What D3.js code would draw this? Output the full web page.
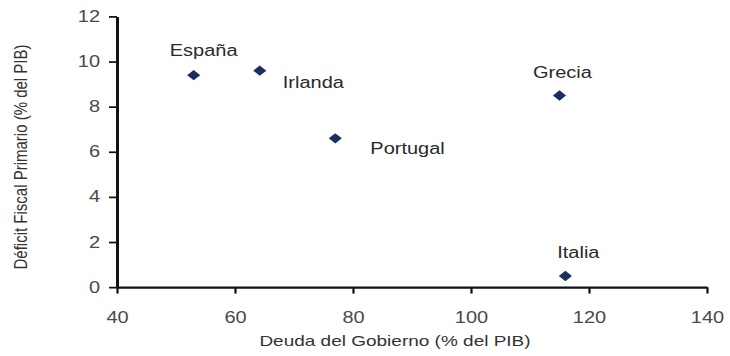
<!DOCTYPE html>
<html>
<head>
<meta charset="utf-8">
<script src="https://cdn.jsdelivr.net/npm/d3@7"></script>
<style>
  html, body { margin: 0; padding: 0; background: #fff; }
  svg { display: block; }
  text { font-family: "Liberation Sans", Arial, sans-serif; }
</style>
</head>
<body>
<svg id="chart" width="730" height="356"></svg>
<script>
// Government debt vs. primary fiscal deficit, selected euro-area countries
const countries = ["España", "Irlanda", "Portugal", "Grecia", "Italia"];
const debt      = [53, 64.2, 77, 115, 116];   // % del PIB
const deficit   = [9.4, 9.6, 6.6, 8.5, 0.5];  // % del PIB

const xTicks = [40, 60, 80, 100, 120, 140];
const yTicks = [0, 2, 4, 6, 8, 10, 12];

const xTitle = "Deuda del Gobierno (% del PIB)";
const yTitle = "Déficit Fiscal Primario (% del PIB)";

// label placement relative to each marker: [dx, dy, anchor]
const labelPlacement = {
  "España":   [10, -19, "middle"],
  "Irlanda":  [23, 17, "start"],
  "Portugal": [35, 16, "start"],
  "Grecia":   [3, -17, "middle"],
  "Italia":   [13, -18, "middle"]
};

const W = 730, H = 356;
const squash = 0.79;            // vertical compression of the drawing

const svg = d3.select("#chart");
const g = svg.append("g").attr("transform", `scale(1,${squash})`);

const x = d3.scaleLinear().domain([40, 140]).range([117, 707]);
const y = d3.scaleLinear().domain([0, 12]).range([363.6, 20.9]);

// y axis
const yAxis = g.append("g")
  .attr("transform", `translate(${x(40)},0)`)
  .call(d3.axisLeft(y).tickValues(yTicks).tickSize(8).tickSizeOuter(0).tickPadding(9).tickFormat(d3.format("d")));

// x axis
const xAxis = g.append("g")
  .attr("transform", `translate(0,${y(0)})`)
  .call(d3.axisBottom(x).tickValues(xTicks).tickSize(8).tickSizeOuter(0).tickPadding(23).tickFormat(d3.format("d")));

[yAxis, xAxis].forEach(ax => {
  ax.select(".domain").attr("stroke", "#111").attr("stroke-width", 3);
  ax.selectAll(".tick line").attr("stroke", "#111").attr("stroke-width", 2.2);
  ax.selectAll(".tick text")
    .attr("fill", "#4a4a4a")
    .style("font-size", "20px")
    .style("font-family", "'Liberation Sans', Arial, sans-serif");
});

// axis titles
g.append("text")
  .attr("x", (x(40) + x(140)) / 2 - 17)
  .attr("y", 346 / squash)
  .attr("text-anchor", "middle")
  .attr("fill", "#333")
  .style("font-size", "19px")
  .text(xTitle);

g.append("text")
  .attr("transform", `translate(27,${157 / squash}) rotate(-90)`)
  .attr("text-anchor", "middle")
  .attr("fill", "#333")
  .style("font-size", "19px")
  .text(yTitle);

// markers
const points = countries.map((c, i) => ({ name: c, debt: debt[i], deficit: deficit[i] }));

const diamond = d3.symbol().type(d3.symbolSquare).size(86);

g.selectAll("path.pt")
  .data(points)
  .join("path")
  .attr("class", "pt")
  .attr("d", diamond)
  .attr("transform", d => `translate(${x(d.debt)},${y(d.deficit)}) rotate(45)`)
  .attr("fill", "#192f5d");

// country labels
g.selectAll("text.lbl")
  .data(points)
  .join("text")
  .attr("class", "lbl")
  .attr("x", d => x(d.debt) + labelPlacement[d.name][0])
  .attr("y", d => y(d.deficit) + labelPlacement[d.name][1] / squash)
  .attr("text-anchor", d => labelPlacement[d.name][2])
  .attr("fill", "#2a2a2a")
  .style("font-size", "20px")
  .text(d => d.name);
</script>
</body>
</html>
